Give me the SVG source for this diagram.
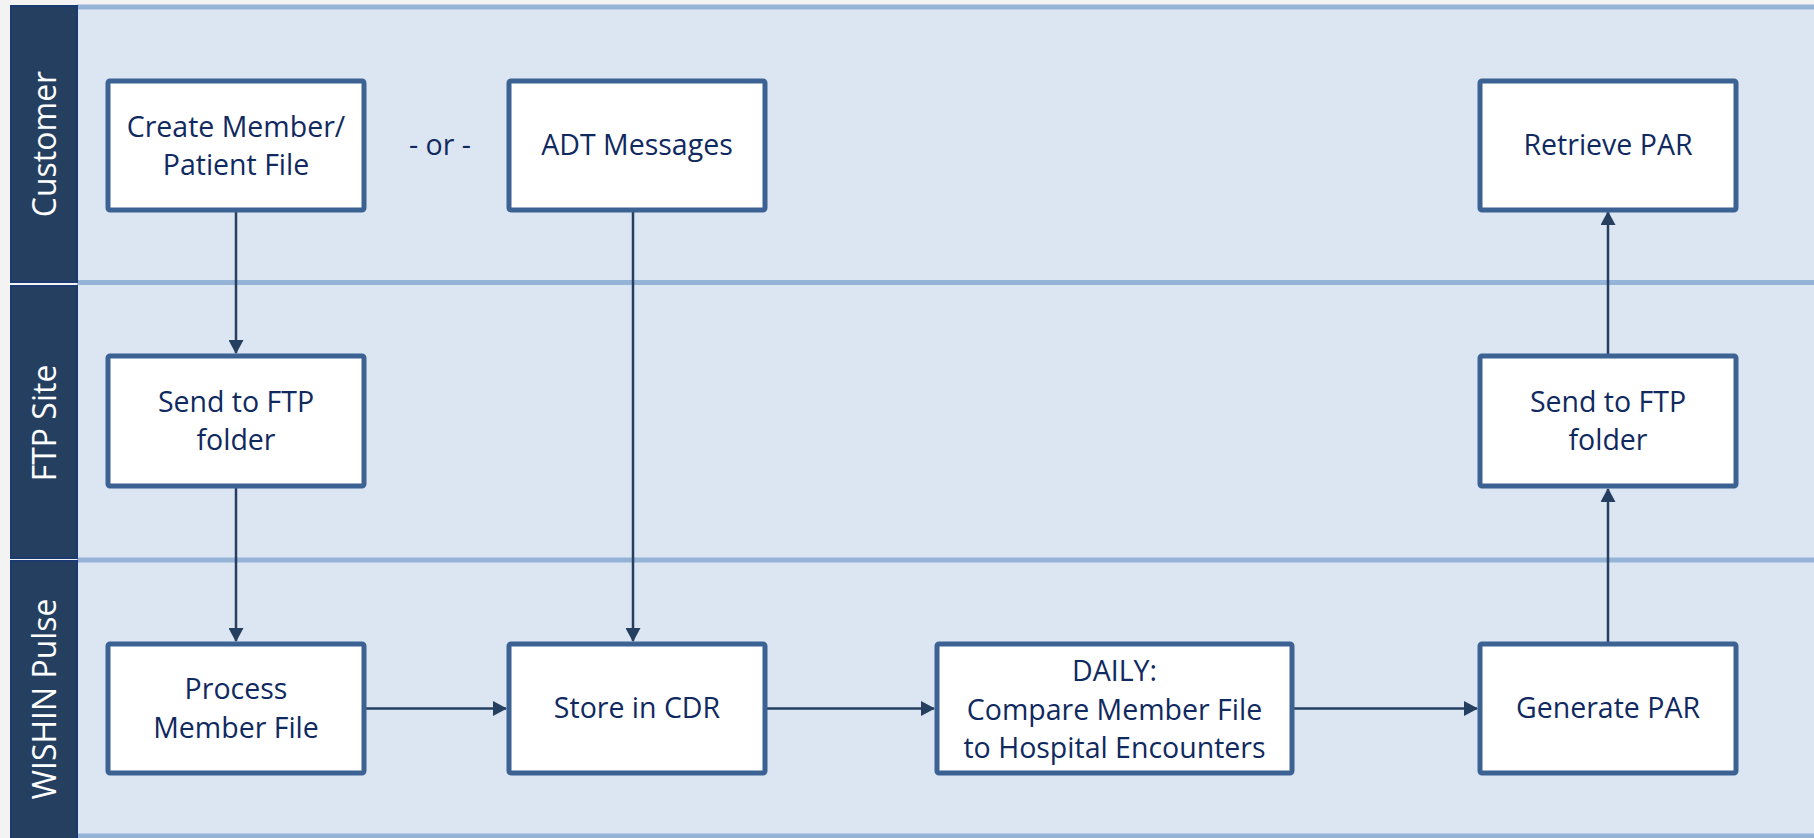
<svg xmlns="http://www.w3.org/2000/svg" width="1814" height="838" viewBox="0 0 1814 838">
<defs>
<style>
.lanebg{fill:#dce6f2}
.sep{stroke:#95b3d7;stroke-width:5}
.hdr{fill:#253f61;stroke:#1c3a72;stroke-width:2}
.hdrtxt{font-family:"Open Sans","Noto Sans",sans-serif;font-size:32px;fill:#ffffff;text-anchor:middle}
.box{fill:#ffffff;stroke:#3b6293;stroke-width:5}
.txt{font-family:"Open Sans","Noto Sans",sans-serif;font-size:28.5px;fill:#10295f;text-anchor:middle}
.con{stroke:#253f61;stroke-width:2.5;fill:none;marker-end:url(#arr)}
</style>
<marker id="arr" viewBox="0 0 14 15" refX="13" refY="7.5" markerWidth="14" markerHeight="15" markerUnits="userSpaceOnUse" orient="auto">
<path d="M0,0 L14,7.5 L0,15 Z" fill="#253f61"/>
</marker>
</defs>
<rect x="0" y="0" width="1814" height="838" fill="#f3f3f3"/>
<g id="lanes">
<rect class="lanebg" x="77" y="7" width="1737" height="831"/>
<line class="sep" x1="77" y1="7" x2="1814" y2="7"/>
<line class="sep" x1="77" y1="282.5" x2="1814" y2="282.5"/>
<line class="sep" x1="77" y1="560" x2="1814" y2="560"/>
<line class="sep" x1="77" y1="836" x2="1814" y2="836"/>
</g>
<g id="lane-customer">
<rect class="hdr" x="11" y="6" width="66" height="276"/>
<text class="hdrtxt" transform="translate(56,144) rotate(-90)">Customer</text>
</g>
<g id="lane-ftp">
<rect class="hdr" x="11" y="286" width="66" height="272"/>
<text class="hdrtxt" transform="translate(56,423) rotate(-90)">FTP Site</text>
</g>
<g id="lane-wishin">
<rect class="hdr" x="11" y="561" width="66" height="280"/>
<text class="hdrtxt" transform="translate(56,699) rotate(-90)">WISHIN Pulse</text>
</g>
<g id="connectors">
<line class="con" x1="236" y1="211" x2="236" y2="353"/>
<line class="con" x1="236" y1="488" x2="236" y2="641"/>
<line class="con" x1="633" y1="211" x2="633" y2="641"/>
<line class="con" x1="366" y1="708.5" x2="506" y2="708.5"/>
<line class="con" x1="765" y1="708.5" x2="934" y2="708.5"/>
<line class="con" x1="1294" y1="708.5" x2="1477" y2="708.5"/>
<line class="con" x1="1608" y1="642" x2="1608" y2="489"/>
<line class="con" x1="1608" y1="354" x2="1608" y2="212"/>
</g>
<g id="n-create">
<rect class="box" x="108" y="81" width="256" height="129" rx="2"/>
<text class="txt" x="236" y="137">Create Member/</text>
<text class="txt" x="236" y="175">Patient File</text>
</g>
<g id="or-label">
<text class="txt" x="440" y="155">- or -</text>
</g>
<g id="n-adt">
<rect class="box" x="509" y="81" width="256" height="129" rx="2"/>
<text class="txt" x="637" y="155">ADT Messages</text>
</g>
<g id="n-retrieve">
<rect class="box" x="1480" y="81" width="256" height="129" rx="2"/>
<text class="txt" x="1608" y="155">Retrieve PAR</text>
</g>
<g id="n-ftp1">
<rect class="box" x="108" y="356" width="256" height="130" rx="2"/>
<text class="txt" x="236" y="412">Send to FTP</text>
<text class="txt" x="236" y="450">folder</text>
</g>
<g id="n-ftp2">
<rect class="box" x="1480" y="356" width="256" height="130" rx="2"/>
<text class="txt" x="1608" y="412">Send to FTP</text>
<text class="txt" x="1608" y="450">folder</text>
</g>
<g id="n-process">
<rect class="box" x="108" y="644" width="256" height="129" rx="2"/>
<text class="txt" x="236" y="699">Process</text>
<text class="txt" x="236" y="738">Member File</text>
</g>
<g id="n-store">
<rect class="box" x="509" y="644" width="256" height="129" rx="2"/>
<text class="txt" x="637" y="718">Store in CDR</text>
</g>
<g id="n-daily">
<rect class="box" x="937" y="644" width="355" height="129" rx="2"/>
<text class="txt" x="1114.5" y="681">DAILY:</text>
<text class="txt" x="1114.5" y="720">Compare Member File</text>
<text class="txt" x="1114.5" y="758">to Hospital Encounters</text>
</g>
<g id="n-generate">
<rect class="box" x="1480" y="644" width="256" height="129" rx="2"/>
<text class="txt" x="1608" y="718">Generate PAR</text>
</g>
</svg>
